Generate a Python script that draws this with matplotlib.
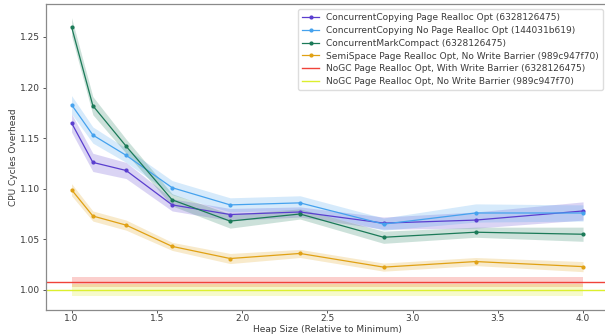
import matplotlib
matplotlib.use("Agg")
import matplotlib.pyplot as plt

# Heap sizes (relative to the minimum heap)
heap = [1.0, 1.125, 1.32, 1.59, 1.93, 2.34, 2.83, 3.37, 4.0]

# Mean CPU cycle overhead per configuration
cc_opt = [1.165, 1.126, 1.118, 1.084, 1.0745, 1.077, 1.066, 1.069, 1.078]
cc_noopt = [1.183, 1.153, 1.133, 1.101, 1.084, 1.086, 1.065, 1.076, 1.076]
cmc = [1.260, 1.182, 1.142, 1.089, 1.068, 1.075, 1.052, 1.057, 1.055]
ss = [1.099, 1.073, 1.064, 1.043, 1.031, 1.036, 1.0225, 1.028, 1.023]

# Confidence interval half-widths
cc_opt_ci = [0.009, 0.009, 0.008, 0.006, 0.006, 0.005, 0.006, 0.008, 0.009]
cc_noopt_ci = [0.009, 0.008, 0.007, 0.007, 0.007, 0.007, 0.006, 0.009, 0.008]
cmc_ci = [0.009, 0.009, 0.007, 0.006, 0.007, 0.005, 0.006, 0.005, 0.007]
ss_ci = [0.006, 0.005, 0.005, 0.004, 0.005, 0.004, 0.004, 0.004, 0.005]

# NoGC baselines (constant across heap sizes)
nogc_wb = 1.008
nogc_wb_ci = 0.005
nogc_nowb = 1.000
nogc_nowb_ci = 0.006

labels = [
    "ConcurrentCopying Page Realloc Opt (6328126475)",
    "ConcurrentCopying No Page Realloc Opt (144031b619)",
    "ConcurrentMarkCompact (6328126475)",
    "SemiSpace Page Realloc Opt, No Write Barrier (989c947f70)",
    "NoGC Page Realloc Opt, With Write Barrier (6328126475)",
    "NoGC Page Realloc Opt, No Write Barrier (989c947f70)",
]
colors = ["#5a3ecf", "#45a2ee", "#1b7a58", "#e0a114", "#f0433a", "#dcef2e"]

text_color = "#3a3a3a"
fs = 6.5
plt.rcParams["font.family"] = ["DejaVu Sans"]
plt.rcParams["font.size"] = fs

fig = plt.figure(figsize=(6.05, 3.36), dpi=100)
ax = fig.add_axes([0.076, 0.077, 0.93, 0.911])

series = [(cc_opt, cc_opt_ci), (cc_noopt, cc_noopt_ci), (cmc, cmc_ci), (ss, ss_ci)]
for (vals, ci), lab, col in zip(series, labels[:4], colors[:4]):
    lo = [v - c for v, c in zip(vals, ci)]
    hi = [v + c for v, c in zip(vals, ci)]
    ax.fill_between(heap, lo, hi, color=col, alpha=0.22, linewidth=0)
    ax.plot(heap, vals, color=col, lw=0.9, marker="o", ms=2.0, label=lab)

for mean, ci, lab, col in [(nogc_wb, nogc_wb_ci, labels[4], colors[4]),
                           (nogc_nowb, nogc_nowb_ci, labels[5], colors[5])]:
    ax.fill_between([heap[0], heap[-1]], [mean - ci] * 2, [mean + ci] * 2,
                    color=col, alpha=0.25, linewidth=0)
    ax.axhline(mean, color=col, lw=1.0, label=lab)

ax.set_xlim(0.85, 4.15)
ax.set_ylim(0.980, 1.2825)
ax.set_yticks([1.00, 1.05, 1.10, 1.15, 1.20, 1.25])
ax.set_yticklabels(["1.00", "1.05", "1.10", "1.15", "1.20", "1.25"])
ax.set_xticks([1.0, 1.5, 2.0, 2.5, 3.0, 3.5, 4.0])

ax.set_xlabel("Heap Size (Relative to Minimum)", color=text_color, labelpad=1.0)
ax.set_ylabel("CPU Cycles Overhead", color=text_color, labelpad=1.5)
ax.tick_params(colors=text_color, length=2.0, width=0.6, labelsize=fs)
ax.tick_params(axis="x", pad=1.0)
ax.tick_params(axis="y", pad=2.0)
for s in ax.spines.values():
    s.set_color("#8a8a8a")
    s.set_linewidth(0.9)

leg = ax.legend(loc="upper right", fontsize=fs, frameon=True, framealpha=1,
                edgecolor="#dddddd", borderpad=0.45, labelspacing=0.42,
                handlelength=1.9, handletextpad=0.75,
                bbox_to_anchor=(0.998, 0.998))
for t in leg.get_texts():
    t.set_color(text_color)

fig.savefig("out.png", dpi=100)
